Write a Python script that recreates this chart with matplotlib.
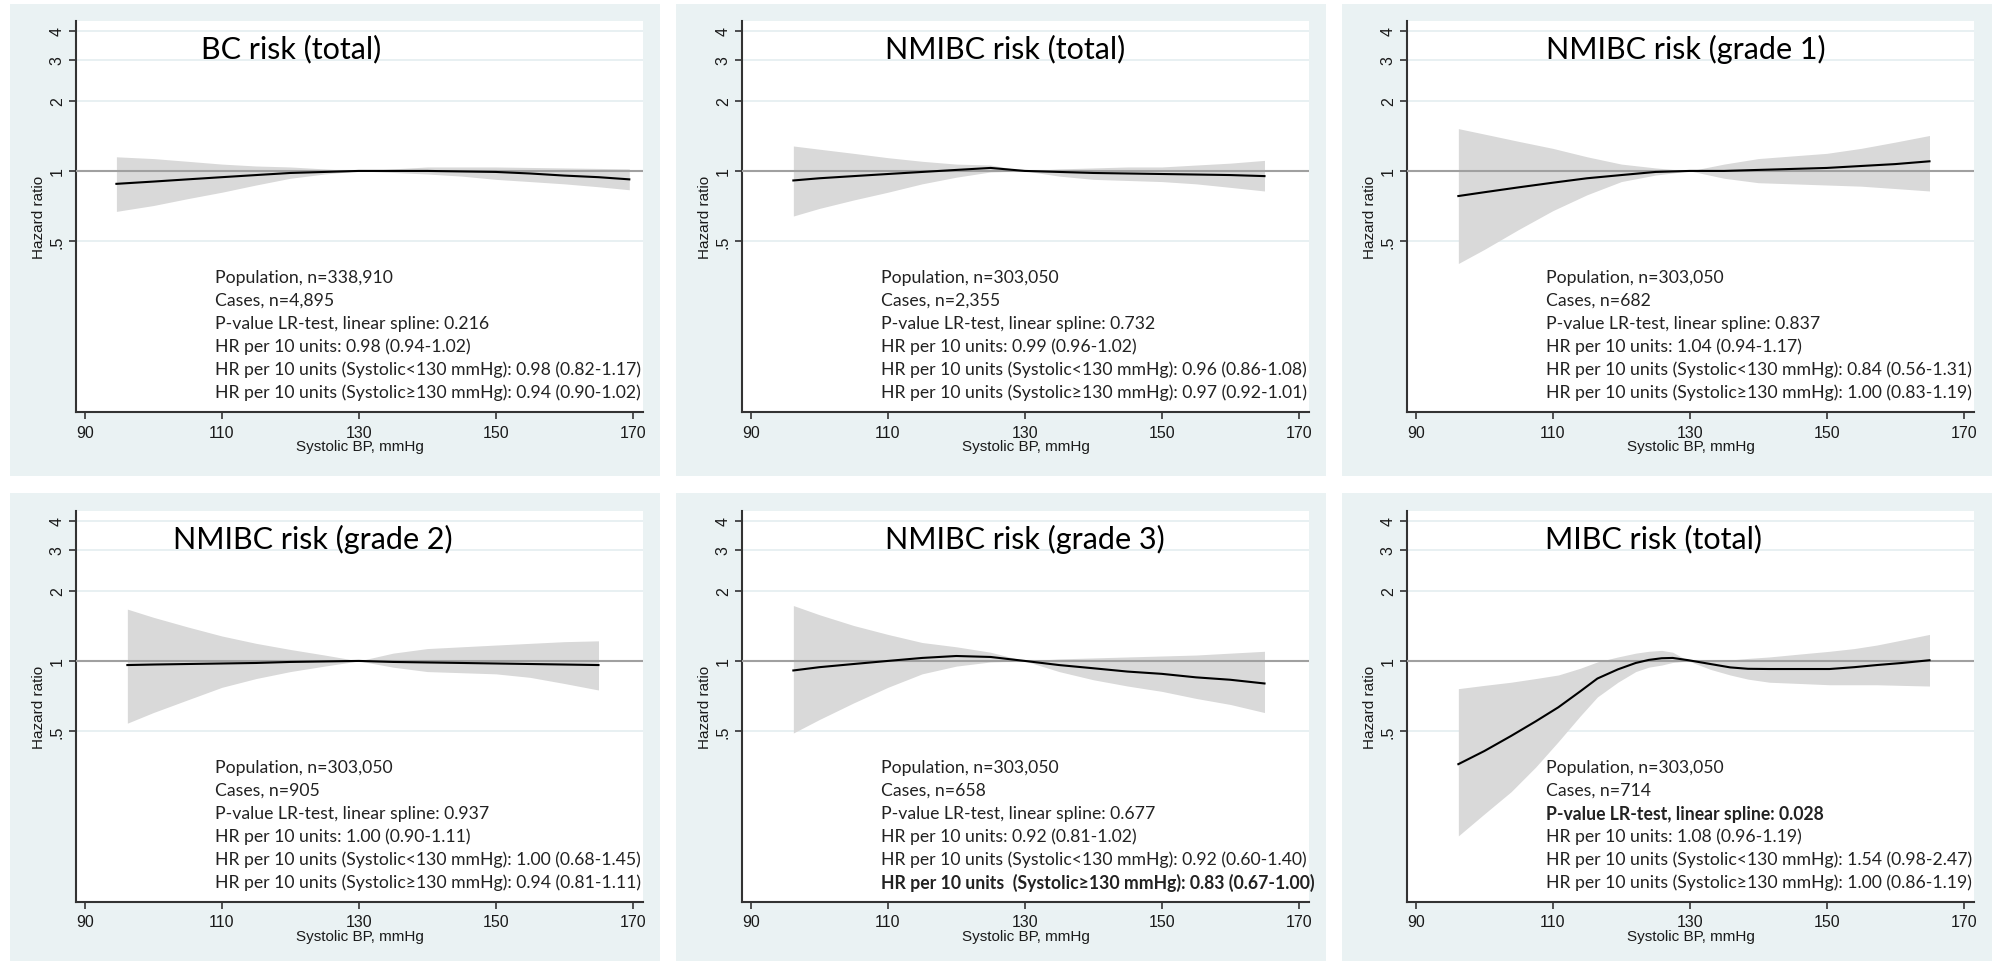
import matplotlib
matplotlib.use("Agg")
import matplotlib.pyplot as plt
from matplotlib.patches import Rectangle

# ---- data ----
titles = ["BC risk (total)", "NMIBC risk (total)", "NMIBC risk (grade 1)",
          "NMIBC risk (grade 2)", "NMIBC risk (grade 3)", "MIBC risk (total)"]

bp1 = [94.6, 100, 105, 110, 115, 120, 125, 130, 135, 140, 145, 150, 155, 160, 165, 169.5]
hr1 = [0.88, 0.90, 0.92, 0.94, 0.96, 0.98, 0.99, 1.00, 1.00, 1.00, 0.995, 0.99, 0.975, 0.955, 0.94, 0.92]
lo1 = [0.67, 0.71, 0.76, 0.81, 0.87, 0.93, 0.97, 1.00, 0.985, 0.97, 0.95, 0.92, 0.90, 0.88, 0.855, 0.83]
hi1 = [1.15, 1.13, 1.10, 1.07, 1.05, 1.04, 1.02, 1.00, 1.02, 1.04, 1.04, 1.04, 1.035, 1.03, 1.025, 1.02]

bp2 = [96.2, 100, 105, 110, 115, 120, 125, 130, 135, 140, 145, 150, 155, 160, 165]
hr2 = [0.91, 0.93, 0.95, 0.97, 0.99, 1.01, 1.03, 1.00, 0.99, 0.98, 0.975, 0.97, 0.965, 0.96, 0.95]
lo2 = [0.64, 0.69, 0.75, 0.81, 0.88, 0.94, 0.99, 1.00, 0.95, 0.92, 0.91, 0.90, 0.88, 0.85, 0.82]
hi2 = [1.28, 1.24, 1.19, 1.14, 1.10, 1.07, 1.06, 1.00, 1.02, 1.03, 1.04, 1.04, 1.06, 1.08, 1.11]

bp3 = [96.2, 100, 105, 110, 115, 120, 125, 130, 135, 140, 145, 150, 155, 160, 165]
hr3 = [0.78, 0.81, 0.85, 0.89, 0.93, 0.96, 0.99, 1.00, 1.00, 1.01, 1.02, 1.03, 1.05, 1.07, 1.10]
lo3 = [0.40, 0.46, 0.56, 0.675, 0.79, 0.90, 0.96, 1.00, 0.93, 0.89, 0.88, 0.87, 0.86, 0.84, 0.82]
hi3 = [1.52, 1.44, 1.34, 1.25, 1.15, 1.07, 1.03, 1.00, 1.07, 1.13, 1.16, 1.19, 1.25, 1.33, 1.42]

bp4 = [96.2, 100, 105, 110, 115, 120, 125, 130, 135, 140, 145, 150, 155, 160, 165]
hr4 = [0.96, 0.965, 0.97, 0.975, 0.98, 0.99, 0.995, 1.00, 0.99, 0.985, 0.98, 0.975, 0.97, 0.965, 0.96]
lo4 = [0.54, 0.60, 0.68, 0.77, 0.84, 0.90, 0.95, 1.00, 0.94, 0.90, 0.89, 0.88, 0.85, 0.80, 0.75]
hi4 = [1.67, 1.54, 1.40, 1.28, 1.19, 1.12, 1.06, 1.00, 1.08, 1.13, 1.15, 1.17, 1.19, 1.21, 1.22]

bp5 = [96.2, 100, 105, 110, 115, 120, 125, 130, 135, 140, 145, 150, 155, 160, 165]
hr5 = [0.91, 0.94, 0.97, 1.00, 1.03, 1.05, 1.04, 1.00, 0.96, 0.93, 0.90, 0.88, 0.85, 0.83, 0.80]
lo5 = [0.49, 0.56, 0.66, 0.77, 0.88, 0.95, 0.99, 1.00, 0.90, 0.83, 0.78, 0.74, 0.69, 0.65, 0.60]
hi5 = [1.73, 1.58, 1.42, 1.30, 1.20, 1.15, 1.09, 1.00, 1.02, 1.03, 1.04, 1.05, 1.06, 1.08, 1.10]

bp6 = [96.2, 100, 103.9, 107.5, 110.8, 114, 116.5, 119.5, 122.1, 124, 125.9, 127.5, 129.8, 133, 135.9, 138.5, 141.6, 146, 150.4, 154, 157.3, 161, 165.0]
hr6 = [0.36, 0.41, 0.476, 0.55, 0.632, 0.74, 0.84, 0.92, 0.98, 1.01, 1.027, 1.03, 1.007, 0.97, 0.938, 0.925, 0.923, 0.923, 0.923, 0.94, 0.96, 0.98, 1.007]
lo6 = [0.177, 0.22, 0.274, 0.35, 0.45, 0.58, 0.70, 0.81, 0.90, 0.94, 0.96, 0.985, 1.00, 0.92, 0.87, 0.835, 0.81, 0.80, 0.79, 0.79, 0.79, 0.785, 0.78]
hi6 = [0.76, 0.785, 0.81, 0.84, 0.87, 0.93, 0.99, 1.04, 1.08, 1.10, 1.11, 1.09, 1.00, 1.00, 1.01, 1.025, 1.04, 1.07, 1.10, 1.13, 1.17, 1.23, 1.30]

bps = [bp1, bp2, bp3, bp4, bp5, bp6]
hrs = [hr1, hr2, hr3, hr4, hr5, hr6]
los = [lo1, lo2, lo3, lo4, lo5, lo6]
his = [hi1, hi2, hi3, hi4, hi5, hi6]

population = ["338,910", "303,050", "303,050", "303,050", "303,050", "303,050"]
cases = ["4,895", "2,355", "682", "905", "658", "714"]
p_lr = ["0.216", "0.732", "0.837", "0.937", "0.677", "0.028"]
hr_all = ["0.98 (0.94-1.02)", "0.99 (0.96-1.02)", "1.04 (0.94-1.17)",
          "1.00 (0.90-1.11)", "0.92 (0.81-1.02)", "1.08 (0.96-1.19)"]
hr_below = ["0.98 (0.82-1.17)", "0.96 (0.86-1.08)", "0.84 (0.56-1.31)",
            "1.00 (0.68-1.45)", "0.92 (0.60-1.40)", "1.54 (0.98-2.47)"]
hr_above = ["0.94 (0.90-1.02)", "0.97 (0.92-1.01)", "1.00 (0.83-1.19)",
            "0.94 (0.81-1.11)", "0.83 (0.67-1.00)", "1.00 (0.86-1.19)"]
bold_line = [None, None, None, None, 5, 2]

yticks = [0.5, 1, 2, 3, 4]
ytick_labels = [".5", "1", "2", "3", "4"]
xticks = [90, 110, 130, 150, 170]

# ---- layout (pixels of a 1992x962 canvas) ----
W, H = 1992, 962
fig = plt.figure(figsize=(W / 100, H / 100), dpi=100)
fig.patch.set_facecolor("white")

col_bg = [10, 676, 1342]
row_bg = [(5, 477), (494, 962)]
col_ax = [76, 742, 1407]
row_ax = [22, 512]
ax_w, ax_h = 567, 391
title_x = [0.22, 0.252, 0.245, 0.171, 0.252, 0.243]   # left edge of the pasted titles

text_font = ["Lato", "DejaVu Sans"]
tick_font = ["Liberation Sans", "DejaVu Sans"]

for i in range(6):
    r, c = divmod(i, 3)
    y0, y1 = row_bg[r]
    fig.patches.append(Rectangle((col_bg[c] / W, 1 - y1 / H), 650 / W, (y1 - y0) / H,
                                 transform=fig.transFigure, facecolor="#eaf2f3",
                                 edgecolor="none", zorder=-10))
    ax = fig.add_axes([col_ax[c] / W, 1 - (row_ax[r] + ax_h) / H, ax_w / W, ax_h / H])
    ax.set_zorder(5)
    ax.set_facecolor("white")
    ax.set_yscale("log")
    ax.set_xlim(88.7, 171.5)
    ax.set_ylim(0.092, 4.41)

    for yt in [0.5, 2, 3, 4]:
        ax.axhline(yt, color="#e4edf0", lw=1.2, zorder=1)
    ax.fill_between(bps[i], los[i], his[i], color="#d9d9d9", lw=0, zorder=2)
    ax.axhline(1, color="#a0a0a0", lw=1.5, zorder=3)
    ax.plot(bps[i], hrs[i], color="black", lw=1.5, zorder=4)

    for s in ["top", "right"]:
        ax.spines[s].set_visible(False)
    for s in ["left", "bottom"]:
        ax.spines[s].set_color("#333333")
        ax.spines[s].set_linewidth(1.5)

    ax.set_xticks(xticks)
    ax.set_xticklabels([str(x) for x in xticks], family=tick_font, fontsize=11.5,
                       color="#1a1a1a")
    ax.yaxis.set_minor_locator(matplotlib.ticker.NullLocator())
    ax.set_yticks(yticks)
    ax.set_yticklabels(ytick_labels, family=tick_font, fontsize=11.5, color="#1a1a1a",
                       rotation=90, va="center")
    ax.tick_params(axis="both", length=5, width=1.2, color="#333333")
    ax.tick_params(axis="x", pad=4)
    ax.tick_params(axis="y", pad=3)
    ax.set_xlabel("Systolic BP, mmHg", family=tick_font, fontsize=11, color="#1a1a1a",
                  labelpad=0)
    ax.set_ylabel("Hazard ratio", family=tick_font, fontsize=11, color="#1a1a1a",
                  labelpad=3)

    ax.text(title_x[i], 0.931, titles[i], transform=ax.transAxes, ha="left", va="center",
            family=text_font, fontsize=22, color="black")

    lines = ["Population, n=" + population[i],
             "Cases, n=" + cases[i],
             "P-value LR-test, linear spline: " + p_lr[i],
             "HR per 10 units: " + hr_all[i],
             "HR per 10 units (Systolic<130 mmHg): " + hr_below[i],
             "HR per 10 units (Systolic\u2265130 mmHg): " + hr_above[i]]
    if i == 4:
        lines[5] = "HR per 10 units  (Systolic\u2265130 mmHg): " + hr_above[i]
    for k, txt in enumerate(lines):
        ax.text(109, 0.345 - k * 0.0588, txt, transform=ax.get_xaxis_transform(),
                ha="left", va="center", family=text_font, fontsize=12.7, color="#222222",
                fontweight="bold" if bold_line[i] == k else "normal")

fig.savefig("out.png", dpi=100, facecolor="white")
